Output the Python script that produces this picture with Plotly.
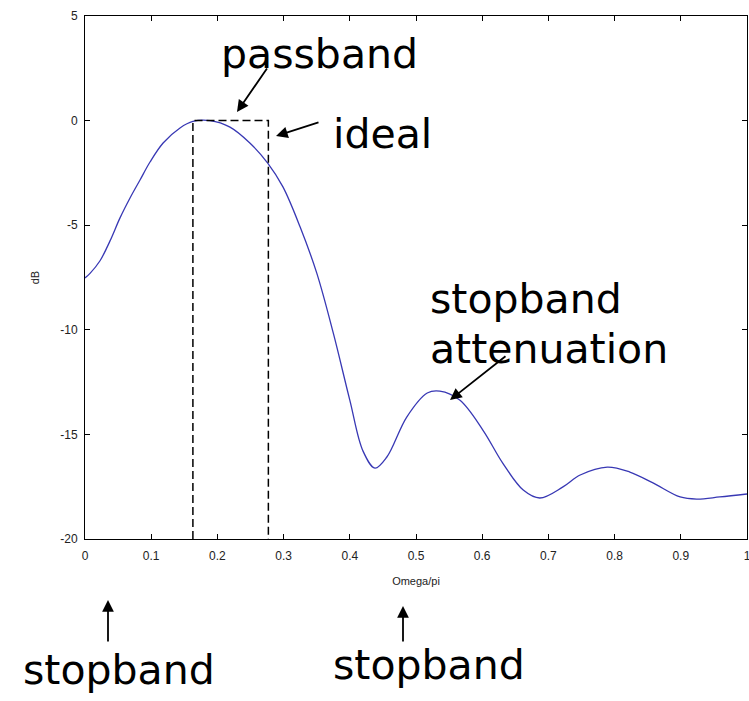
import plotly.graph_objects as go

# Frequency response
omega = [0.0, 0.0076, 0.0227, 0.0378, 0.0529, 0.068, 0.0831, 0.0982, 0.118, 0.1435,
         0.163, 0.189, 0.219, 0.249, 0.276, 0.299, 0.325, 0.350, 0.375, 0.400,
         0.420, 0.438, 0.456, 0.486, 0.517, 0.536, 0.566, 0.601, 0.631, 0.662,
         0.687, 0.722, 0.748, 0.789, 0.823, 0.858, 0.899, 0.924, 0.959, 1.0]
db = [-7.52, -7.30, -6.70, -5.75, -4.65, -3.70, -2.84, -1.98, -1.07, -0.35,
      -0.04, 0.0, -0.31, -1.07, -2.03, -3.17, -5.09, -7.28, -10.15, -13.36,
      -15.80, -16.61, -16.08, -14.17, -13.02, -12.93, -13.36, -14.79, -16.37, -17.66,
      -18.04, -17.51, -16.94, -16.56, -16.80, -17.32, -17.99, -18.09, -17.99, -17.85]

# Ideal passband outline
ideal_x = [0.163, 0.163, 0.277, 0.277]
ideal_y = [-20, 0, 0, -20]

x_ticks = [0, 0.1, 0.2, 0.3, 0.4, 0.5, 0.6, 0.7, 0.8, 0.9, 1.0]
x_ticklabels = ["0", "0.1", "0.2", "0.3", "0.4", "0.5", "0.6", "0.7", "0.8", "0.9", "1"]
y_ticks = [-20, -15, -10, -5, 0, 5]
y_ticklabels = ["-20", "-15", "-10", "-5", "0", "5"]

W, H = 749, 701
L, R, T, B = 85, 2, 16, 162
PW, PH = W - L - R, H - T - B


def px(xp):
    return (xp - L) / PW


def py(yp):
    return (H - B - yp) / PH


fig = go.Figure()
fig.add_trace(go.Scatter(x=omega, y=db, mode="lines", line=dict(color="#3838b4", width=1.3, shape="spline", smoothing=1.0),
                         showlegend=False, hoverinfo="skip"))
fig.add_trace(go.Scatter(x=ideal_x, y=ideal_y, mode="lines", line=dict(color="black", width=1.5, dash="8px,4px"),
                         showlegend=False, hoverinfo="skip"))

BIG = dict(family="DejaVu Sans", size=41, color="black")
texts = [
    ("passband", 219, 54),
    ("ideal", 331, 134),
    ("stopband", 428, 299),
    ("attenuation", 428, 349),
    ("stopband", 21, 670),
    ("stopband", 331, 665),
]
ann = []
for t, x0, y0 in texts:
    ann.append(dict(text=t, x=px(x0), y=py(y0), xref="paper", yref="paper", xanchor="left", yanchor="middle",
                    showarrow=False, font=BIG))

arrows = [
    (237, 112, 31, -45),
    (276, 136, 44, -14),
    (450, 400, 57, -45),
    (108, 600, 0, 43),
    (403, 606, 0, 37),
]
for tx, ty, ax, ay in arrows:
    ann.append(dict(text="", x=px(tx), y=py(ty), xref="paper", yref="paper", ax=ax, ay=ay,
                    showarrow=True, arrowhead=2, arrowsize=1.3, arrowwidth=1.8, arrowcolor="black", standoff=0))

fig.update_layout(
    width=W, height=H, margin=dict(l=L, r=R, t=T, b=B, autoexpand=False),
    paper_bgcolor="white", plot_bgcolor="white",
    annotations=ann,
    xaxis=dict(range=[0, 1.00001], tickvals=x_ticks, ticktext=x_ticklabels, ticks="inside", ticklen=5,
               tickcolor="black", showline=True, linecolor="black", linewidth=1, mirror="ticks",
               showgrid=False, zeroline=False, ticklabelstandoff=6, ticklabeloverflow="allow",
               automargin=False,
               tickfont=dict(family="Liberation Sans", size=12, color="#222"),
               title=dict(text="Omega/pi", font=dict(family="Liberation Sans", size=11, color="#222"), standoff=14)),
    yaxis=dict(range=[-20, 5], tickvals=y_ticks, ticktext=y_ticklabels, ticks="inside", ticklen=5,
               tickcolor="black", showline=True, linecolor="black", linewidth=1, mirror="ticks",
               showgrid=False, zeroline=False, ticklabelstandoff=4, automargin=False,
               tickfont=dict(family="Liberation Sans", size=12, color="#222"),
               title=dict(text="dB", font=dict(family="Liberation Sans", size=11, color="#222"), standoff=18)),
)

fig.write_html("out.html")
